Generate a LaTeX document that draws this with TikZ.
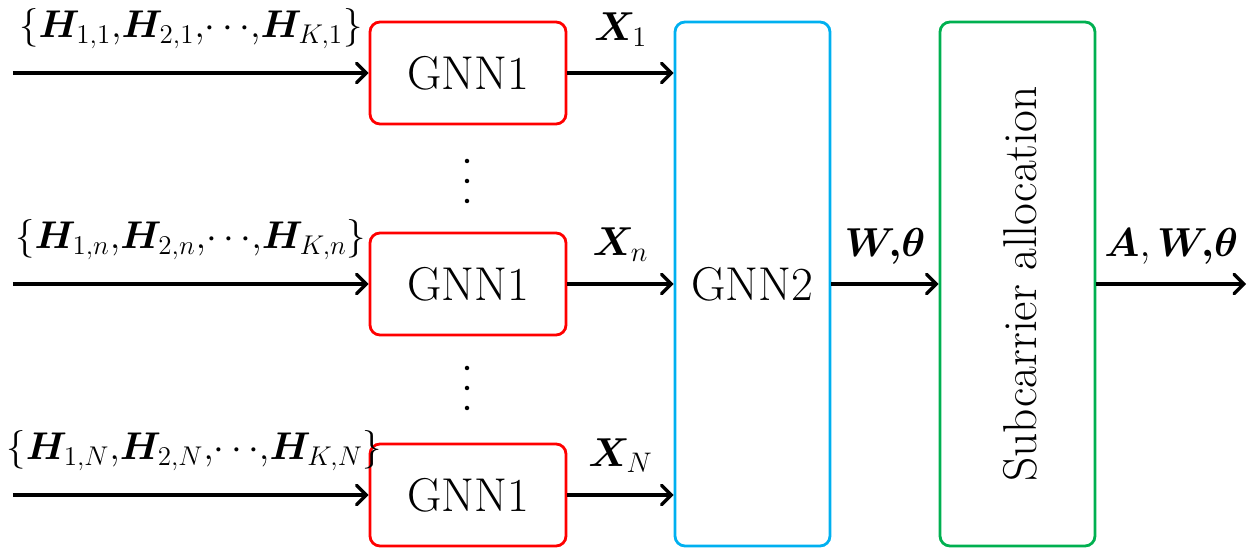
\RequirePackage{fix-cm}
\documentclass[tikz,border=0pt]{standalone}
\usepackage{amsmath}
\usepackage{bm}
\usetikzlibrary{arrows.meta}

\definecolor{gnnred}{RGB}{255,0,0}
\definecolor{gnnblue}{RGB}{0,176,240}
\definecolor{gnngreen}{RGB}{0,176,80}

\begin{document}
\begin{tikzpicture}[font=\fontsize{27}{32}\selectfont,
    block/.style={draw, rounded corners=0.2cm, line width=1.6pt, inner sep=0pt,
                  minimum width=3.92cm, minimum height=2.04cm},
    tall/.style={block, minimum width=3.1cm, minimum height=10.48cm},
    arr/.style={-{Straight Barb[length=5.5pt,width=11pt,line cap=round]}, line width=1.9pt},
    mlabel/.style={font=\fontsize{23}{28}\selectfont, inner sep=0pt},
    hlabel/.style={font=\fontsize{22}{27}\selectfont, inner sep=0pt}]
            \useasboundingbox (0,0) rectangle (25.2,11.12);

            \node[block, draw=gnnred] (g1) at (9.36,9.66) {GNN1};
            \node[block, draw=gnnred] (gn) at (9.36,5.44) {GNN1};
            \node[block, draw=gnnred] (gN) at (9.36,1.22) {GNN1};
            \node[tall, draw=gnnblue] (gnn2) at (15.05,5.44) {GNN2};
            \node[tall, draw=gnngreen] (alloc) at (20.35,5.44) {};
            \node[rotate=90] (alloctext) at (20.4,5.44) {Subcarrier allocation};

            \coordinate (in1) at (0.26,9.66);
            \coordinate (inn) at (0.26,5.44);
            \coordinate (inN) at (0.26,1.22);
            \coordinate (out) at (24.92,5.44);

            \draw[arr] (in1) -- node[hlabel, above=0.45cm] (h1) {$\{\bm{H}_{1,1}{,}\bm{H}_{2,1}{,}{\cdots}{,}\bm{H}_{K,1}\}$} (g1);
            \draw[arr] (inn) -- node[hlabel, above=0.45cm] (hn) {$\{\bm{H}_{1,n}{,}\bm{H}_{2,n}{,}{\cdots}{,}\bm{H}_{K,n}\}$} (gn);
            \draw[arr] (inN) -- node[hlabel, above=0.45cm, xshift=2pt] (hN) {$\{\bm{H}_{1,N}{,}\bm{H}_{2,N}{,}{\cdots}{,}\bm{H}_{K,N}\}$} (gN);

            \draw[arr] (g1) -- node[mlabel, above=0.5cm] (x1) {$\bm{X}_1$} (g1 -| gnn2.west);
            \draw[arr] (gn) -- node[mlabel, above=0.42cm] (xn) {$\bm{X}_n$} (gn -| gnn2.west);
            \draw[arr] (gN) -- node[mlabel, above=0.42cm] (xN) {$\bm{X}_N$} (gN -| gnn2.west);

            \draw[arr] (gnn2) -- node[mlabel, above=0.36cm] (wt) {$\bm{W}\mkern-3mu{\bm{,}}\bm{\theta}$} (alloc);
            \draw[arr] (alloc) -- node[mlabel, above=0.36cm] (awt) {$\bm{A},\bm{W}\mkern-3mu{\bm{,}}\bm{\theta}$} (out);

            \foreach \y in {7.9,7.5,7.1,3.76,3.36,2.96}{
                \fill (9.34,\y) circle (0.045);
            }
        \end{tikzpicture}
\end{document}
